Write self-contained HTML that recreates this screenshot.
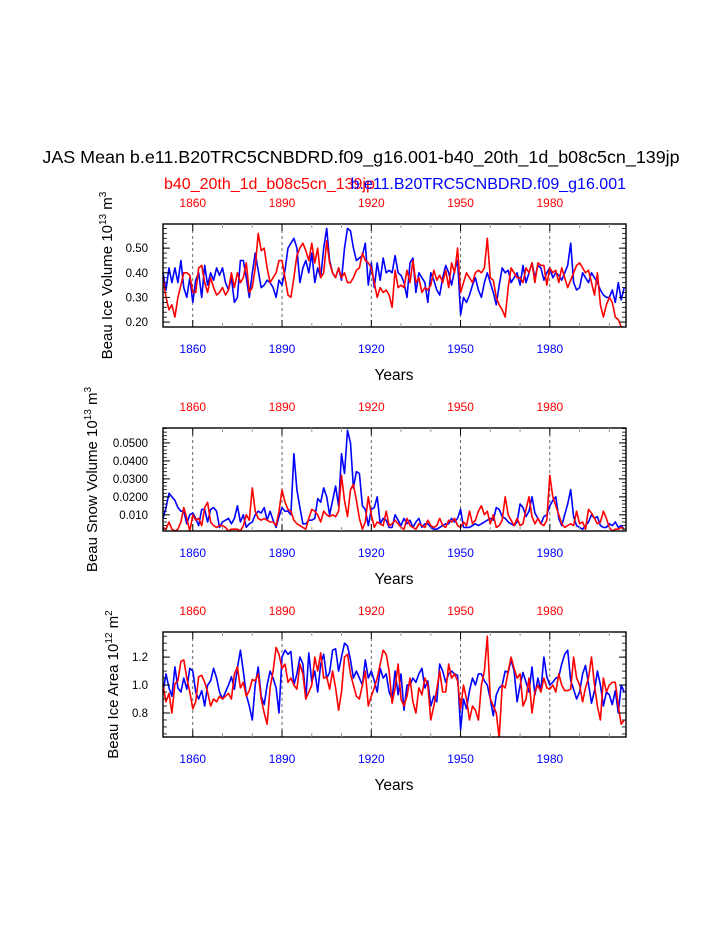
<!DOCTYPE html>
<html><head><meta charset="utf-8"><style>
html,body{margin:0;padding:0;background:#fff;}
svg{display:block;font-family:"Liberation Sans",Arial,sans-serif;}
</style></head><body>
<svg id="chart" width="723" height="935" viewBox="0 0 723 935" xmlns="http://www.w3.org/2000/svg">
<text x="361" y="163" font-size="17.9" text-anchor="middle">JAS Mean b.e11.B20TRC5CNBDRD.f09_g16.001-b40_20th_1d_b08c5cn_139jp</text>
<text x="164" y="189" font-size="16" fill="#f00">b40_20th_1d_b08c5cn_139jp</text>
<text x="626" y="189" font-size="16" fill="#00f" text-anchor="end">b.e11.B20TRC5CNBDRD.f09_g16.001</text>
<g id="panels"></g>
</svg>
<script>
const years = [];
for (let y = 1850; y <= 2005; y++) years.push(y);
const xTickYears = [1860, 1890, 1920, 1950, 1980];

const iceVolBlue = [.40,.33,.42,.36,.42,.36,.45,.34,.30,.38,
.28,.37,.40,.30,.43,.35,.40,.37,.42,.39,
.42,.36,.33,.38,.28,.30,.45,.45,.38,.30,
.40,.48,.41,.34,.35,.37,.36,.34,.30,.37,
.35,.41,.50,.52,.54,.50,.36,.42,.45,.40,
.48,.36,.42,.38,.50,.58,.45,.40,.38,.42,
.37,.50,.58,.57,.50,.45,.46,.47,.52,.35,
.44,.34,.44,.37,.46,.40,.41,.40,.47,.40,
.39,.36,.30,.44,.46,.32,.40,.38,.36,.28,
.40,.37,.33,.31,.38,.43,.40,.35,.41,.45,
.23,.30,.28,.31,.35,.38,.33,.30,.36,.40,
.36,.32,.27,.35,.42,.40,.41,.36,.38,.40,
.35,.43,.36,.40,.44,.38,.43,.42,.37,.40,
.42,.38,.40,.39,.37,.40,.43,.52,.36,.33,
.34,.40,.38,.36,.40,.38,.36,.33,.31,.30,
.30,.33,.28,.36,.29,.34];
const iceVolRed = [.38,.30,.25,.27,.22,.30,.35,.40,.40,.39,
.32,.32,.42,.43,.36,.32,.38,.34,.31,.32,
.34,.31,.33,.40,.34,.40,.36,.38,.44,.32,
.34,.42,.56,.49,.50,.42,.36,.38,.40,.45,
.45,.38,.31,.30,.38,.47,.50,.52,.49,.45,
.52,.44,.50,.38,.40,.53,.44,.40,.38,.42,
.38,.40,.36,.36,.38,.41,.42,.48,.45,.44,
.42,.36,.30,.34,.32,.33,.31,.26,.41,.34,
.35,.34,.41,.36,.45,.36,.38,.32,.34,.33,
.35,.41,.37,.39,.36,.41,.34,.44,.40,.50,
.32,.36,.40,.38,.36,.40,.41,.40,.42,.54,
.38,.37,.30,.27,.25,.22,.34,.42,.40,.38,
.38,.36,.42,.40,.44,.36,.44,.43,.43,.35,
.42,.40,.41,.36,.42,.38,.34,.37,.40,.43,
.44,.42,.40,.41,.36,.31,.40,.27,.22,.27,
.30,.28,.22,.21,.18,.18];

const snowBlue = [8,14,22,20,18,14,12,12,5,10,
11,8,4,13,13,6,13,14,12,3,
6,7,8,5,8,15,6,10,3,5,
6,10,12,11,14,7,12,7,3,9,
14,12,12,10,44,24,14,5,5,7,
7,8,19,17,25,20,10,18,26,15,
44,33,57,50,25,34,33,15,13,4,
13,14,20,5,8,7,3,3,10,7,
4,8,5,7,3,6,8,3,5,5,
3,2,2,3,4,5,5,8,6,8,
13,3,3,3,4,5,4,5,6,7,
8,7,14,13,9,8,6,5,4,6,
16,14,9,12,20,11,8,5,9,10,
15,18,20,8,4,10,16,24,9,4,
3,2,4,6,10,8,9,4,3,3,
5,4,6,3,4,2].map(v => v / 1000);
const snowRed = [3,2,6,2,1,2,6,14,8,1,
10,7,8,4,14,17,6,4,3,4,
4,3,1,2,2,2,1,4,10,7,
25,12,8,7,8,7,6,6,4,12,
24,17,13,12,7,5,4,3,2,8,
13,12,10,6,12,10,9,10,9,12,
32,18,9,24,27,18,8,2,6,20,
10,3,6,5,4,12,4,5,7,5,
3,2,8,4,3,2,5,4,3,7,
4,3,4,8,4,3,7,6,8,4,
3,6,4,12,5,7,12,15,10,12,
5,10,3,4,7,20,10,7,4,8,
4,5,13,20,9,5,8,5,4,7,
32,20,15,10,5,3,4,5,4,12,
5,6,2,13,11,8,5,6,12,8,
3,1,2,2,3,2].map(v => v / 1000);

const areaBlue = [0.95,1.08,0.98,0.92,1.13,0.98,0.95,1.05,0.97,1.12,
1.10,0.95,0.90,0.96,0.85,1.00,1.03,1.12,1.05,0.95,
0.90,0.95,1.00,1.06,0.97,1.12,1.25,1.10,0.93,0.85,
0.75,1.00,1.13,0.92,0.86,1.00,1.10,1.05,0.98,0.80,
1.20,1.25,1.22,1.24,1.00,1.08,1.20,1.15,0.90,1.23,
1.02,1.10,0.95,1.15,1.22,1.05,1.09,1.25,1.26,1.10,
1.20,1.30,1.28,1.18,1.05,1.10,1.05,1.00,1.18,1.05,
1.10,1.03,0.95,1.12,1.05,1.08,0.95,0.90,1.10,0.93,
1.08,0.82,1.00,1.00,1.05,1.02,1.08,1.12,0.98,1.03,
0.85,0.92,0.88,1.15,1.10,1.02,1.08,1.10,1.08,1.07,
0.68,0.90,0.83,0.96,1.05,1.00,1.08,1.08,1.03,1.00,
0.90,0.78,0.93,0.98,1.00,1.10,1.09,1.18,1.10,0.88,
1.00,1.09,1.02,0.95,1.13,0.93,1.05,0.96,1.20,1.06,
1.00,1.02,1.05,1.06,1.15,1.22,1.25,1.03,0.97,0.90,
0.95,1.08,1.14,1.01,0.87,0.96,1.10,1.00,0.85,0.95,
0.93,0.86,0.96,0.80,1.00,0.95];
const areaRed = [1.00,0.88,0.94,0.80,1.01,1.03,1.17,1.18,1.05,0.95,
0.83,0.88,1.06,1.07,1.02,0.95,0.85,0.90,0.88,0.92,
0.90,0.92,0.94,0.90,1.08,1.13,0.98,1.02,0.92,0.96,
1.04,1.03,1.08,0.90,0.80,0.72,0.98,1.10,1.27,1.22,
1.12,1.15,1.02,1.05,1.00,0.97,1.15,1.08,0.90,0.95,
1.00,1.20,1.10,1.23,1.05,1.06,0.97,1.10,0.98,0.82,
0.95,1.20,1.22,1.08,1.00,0.92,0.90,1.00,1.10,0.85,
0.92,0.98,1.05,1.15,1.25,1.22,1.10,0.87,0.98,1.15,
0.90,0.85,0.92,1.05,0.88,0.80,0.98,0.93,1.05,1.00,
0.75,0.85,0.97,1.10,0.95,0.95,1.15,1.05,1.08,1.03,
0.83,1.00,0.90,0.75,0.85,0.82,0.75,1.00,1.10,1.35,
0.90,0.85,0.80,0.62,1.00,0.98,1.10,1.20,1.12,1.05,
1.08,0.85,0.90,1.05,0.80,0.95,1.00,0.95,1.05,0.98,
0.97,1.00,0.95,1.08,1.00,0.96,0.96,0.97,1.20,1.05,
1.00,0.88,0.98,1.05,1.20,1.00,0.85,0.75,1.05,0.95,
1.00,1.02,1.02,0.85,0.72,0.75];

const iceVolTicks = [0.20, 0.30, 0.40, 0.50];
const iceVolTickLabels = ["0.20", "0.30", "0.40", "0.50"];
const snowTicks = [0.010, 0.020, 0.030, 0.040, 0.050];
const snowTickLabels = ["0.010", "0.0200", "0.0300", "0.0400", "0.0500"];
const areaTicks = [0.8, 1.0, 1.2];
const areaTickLabels = ["0.8", "1.0", "1.2"];

const NS = "http://www.w3.org/2000/svg";
const root = document.getElementById('panels');
const X0 = 163, X1 = 626, YR0 = 1850, YR1 = 2005.6;
function xScale(yr) { return X0 + (yr - YR0) / (YR1 - YR0) * (X1 - X0); }
function mk(tag, attrs, parent) {
  const e = document.createElementNS(NS, tag);
  for (const k in attrs) e.setAttribute(k, attrs[k]);
  (parent || root).appendChild(e);
  return e;
}

const panels = [
  {key: 'ice-volume', top: 224, bot: 327, vmin: 0.18, vmax: 0.598, ticks: iceVolTicks, labels: iceVolTickLabels, minor: 0.02,
   blue: iceVolBlue, red: iceVolRed, tx: 112, title: ['Beau Ice Volume 10', '13', ' m', '3']},
  {key: 'snow-volume', top: 428, bot: 531, vmin: 0.001, vmax: 0.0583, ticks: snowTicks, labels: snowTickLabels, minor: 0.002,
   blue: snowBlue, red: snowRed, tx: 97, title: ['Beau Snow Volume 10', '13', ' m', '3']},
  {key: 'ice-area', top: 632, bot: 737, vmin: 0.628, vmax: 1.38, ticks: areaTicks, labels: areaTickLabels, minor: 0.05,
   blue: areaBlue, red: areaRed, tx: 118, title: ['Beau Ice Area 10', '12', ' m', '2']}
];

panels.forEach(p => {
  const g = mk('g', {});
  
  
  const yS = v => p.bot - (v - p.vmin) / (p.vmax - p.vmin) * (p.bot - p.top);

  xTickYears.forEach(yr => {
    const l = mk('line', {x1: xScale(yr), x2: xScale(yr), y1: p.top, y2: p.bot, stroke: '#444', 'stroke-width': 0.8, 'stroke-dasharray': '3,3'}, g);
    
    
  });

  [['blue', p.blue, '#00f'], ['red', p.red, '#f00']].forEach(([nm, arr, col]) => {
    const pts = arr.map((v, i) => xScale(years[i]).toFixed(1) + ',' + yS(v).toFixed(1)).join(' ');
    const pl = mk('polyline', {points: pts, fill: 'none', stroke: col, 'stroke-width': 1.6, 'stroke-linejoin': 'round'}, g);
    
    
  });

  mk('rect', {x: X0 - 2, y: p.top - 20, width: X1 - X0 + 4, height: 20, fill: '#fff'}, g);
  mk('rect', {x: X0 - 2, y: p.bot, width: X1 - X0 + 4, height: 20, fill: '#fff'}, g);

  const box = mk('rect', {x: X0, y: p.top, width: X1 - X0, height: p.bot - p.top, fill: 'none', stroke: '#000', 'stroke-width': 1.4}, g);
  
  

  for (let yr = 1860; yr <= 2000; yr += 10) {
    const major = xTickYears.includes(yr);
    const len = major ? 7 : 4;
    const xx = xScale(yr);
    mk('line', {x1: xx, x2: xx, y1: p.top, y2: p.top + len, stroke: major ? '#000' : '#999', 'stroke-width': 1}, g);
    mk('line', {x1: xx, x2: xx, y1: p.bot, y2: p.bot - len, stroke: major ? '#000' : '#999', 'stroke-width': 1}, g);
  }
  xTickYears.forEach(yr => {
    const t1 = mk('text', {x: xScale(yr), y: p.top - 17, 'font-size': 12, fill: '#f00', 'text-anchor': 'middle'}, g);
    t1.textContent = yr;
    
    
    const t2 = mk('text', {x: xScale(yr), y: p.bot + 26, 'font-size': 12, fill: '#00f', 'text-anchor': 'middle'}, g);
    t2.textContent = yr;
    
    
  });

  const start = Math.ceil(p.vmin / p.minor) * p.minor;
  for (let v = start; v <= p.vmax; v += p.minor) {
    mk('line', {x1: X0, x2: X0 + 4, y1: yS(v), y2: yS(v), stroke: '#000', 'stroke-width': 0.8}, g);
    mk('line', {x1: X1, x2: X1 - 4, y1: yS(v), y2: yS(v), stroke: '#000', 'stroke-width': 0.8}, g);
  }
  p.ticks.forEach((v, i) => {
    mk('line', {x1: X0, x2: X0 + 7, y1: yS(v), y2: yS(v), stroke: '#000', 'stroke-width': 1}, g);
    mk('line', {x1: X1, x2: X1 - 7, y1: yS(v), y2: yS(v), stroke: '#000', 'stroke-width': 1}, g);
    const t = mk('text', {x: 148, y: yS(v) + 4, 'font-size': 11.5, 'text-anchor': 'end'}, g);
    t.textContent = p.labels[i];
    
    
  });

  const xt = mk('text', {x: 394, y: p.bot + 53, 'font-size': 15.5, 'text-anchor': 'middle'}, g);
  xt.textContent = 'Years';
  
  

  const cy = (p.top + p.bot) / 2;
  const yt = mk('text', {x: 0, y: 0, 'font-size': 15, 'text-anchor': 'middle', transform: 'translate(' + p.tx + ',' + cy + ') rotate(-90)'}, g);
  
  
  const s1 = mk('tspan', {}, yt); s1.textContent = p.title[0];
  const s2 = mk('tspan', {dy: -6, 'font-size': 10}, yt); s2.textContent = p.title[1];
  const s3 = mk('tspan', {dy: 6}, yt); s3.textContent = p.title[2];
  const s4 = mk('tspan', {dy: -6, 'font-size': 10}, yt); s4.textContent = p.title[3];
});
</script>
</body></html>
